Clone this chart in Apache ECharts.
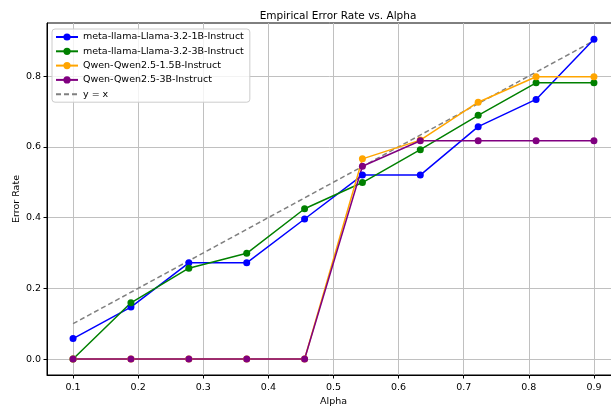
<!DOCTYPE html>
<html><head><meta charset="utf-8">
<script src="https://cdn.jsdelivr.net/npm/echarts@6/dist/echarts.min.js"></script>
<style>html,body{margin:0;padding:0;background:#fff}#c{width:611px;height:408px}</style>
</head><body><div id="c"></div>
<script>
const alphas = [0.1, 0.1889, 0.2778, 0.3667, 0.4556, 0.5444, 0.6333, 0.7222, 0.8111, 0.9];
const llama1B = [0.058, 0.147, 0.272, 0.272, 0.396, 0.520, 0.520, 0.657, 0.734, 0.904];
const llama3B = [0.0, 0.159, 0.257, 0.299, 0.425, 0.499, 0.592, 0.689, 0.781, 0.781];
const qwen15B = [0.0, 0.0, 0.0, 0.0, 0.0, 0.566, 0.619, 0.726, 0.798, 0.798];
const qwen3B  = [0.0, 0.0, 0.0, 0.0, 0.0, 0.545, 0.617, 0.617, 0.617, 0.617];
const diagX = [0.1, 0.9];
const diagY = [0.1, 0.9];
const xTicks = [0.1, 0.2, 0.3, 0.4, 0.5, 0.6, 0.7, 0.8, 0.9];
const yTicks = [0.0, 0.2, 0.4, 0.6, 0.8];
const names = ['meta-llama-Llama-3.2-1B-Instruct','meta-llama-Llama-3.2-3B-Instruct','Qwen-Qwen2.5-1.5B-Instruct','Qwen-Qwen2.5-3B-Instruct','y = x'];
const colors = ['#0000ff','#008000','#ffa500','#800080','#808080'];
const font = 'DejaVu Sans';

const pair = (xs, ys) => xs.map((x, i) => [x, ys[i]]);
const lineSeries = (name, ys, color) => ({
  name, type: 'line', data: pair(alphas, ys),
  symbol: 'circle', symbolSize: 7, showSymbol: true,
  itemStyle: {color}, lineStyle: {color, width: 1.5},
  emphasis: {disabled: true}, animation: false, z: 3
});

const chart = echarts.init(document.getElementById('c'), null, {renderer: 'canvas'});
chart.setOption({
  animation: false,
  backgroundColor: '#fff',
  title: {text: 'Empirical Error Rate vs. Alpha', left: 333, top: 6, textAlign: 'center',
    textStyle: {fontFamily: font, fontSize: 10.5, fontWeight: 'normal', color: '#000'}},
  grid: {left: 47, top: 23, width: 573, height: 352, outerBoundsMode: 'none', containLabel: false,
    show: true, borderColor: '#000', borderWidth: 1, backgroundColor: 'transparent'},
  legend: {
    orient: 'vertical', left: 52, top: 29, padding: [3, 6, 3, 3],
    itemWidth: 22, itemHeight: 9, itemGap: 4.3,
    backgroundColor: 'rgba(255,255,255,0.8)', borderColor: '#cccccc', borderWidth: 1, borderRadius: 3,
    textStyle: {fontFamily: font, fontSize: 9.5, color: '#000'},
    data: names.slice(0, 4).concat([{name: names[4], itemStyle: {opacity: 0}}])
  },
  xAxis: {
    type: 'value', min: 0.06, max: 0.94,
    name: 'Alpha', nameLocation: 'middle', nameGap: 22, nameMoveOverlap: false,
    nameTextStyle: {fontFamily: font, fontSize: 9.5, color: '#000'},
    axisLine: {show: true, onZero: false, lineStyle: {color: '#000', width: 1}},
    axisTick: {show: true, inside: false, length: 3.5, lineStyle: {color: '#000'}, customValues: xTicks},
    axisLabel: {customValues: xTicks, fontFamily: font, fontSize: 9.5, color: '#000', margin: 8,
      formatter: v => v.toFixed(1)},
    splitLine: {show: true, lineStyle: {color: '#c0c0c0', width: 1}}
  },
  yAxis: {
    type: 'value', min: -0.045, max: 0.95,
    name: 'Error Rate', nameLocation: 'middle', nameGap: 25, nameRotate: 90, nameMoveOverlap: false,
    nameTextStyle: {fontFamily: font, fontSize: 9.5, color: '#000'},
    axisLine: {show: true, onZero: false, lineStyle: {color: '#000', width: 1}},
    axisTick: {show: true, inside: false, length: 3.5, lineStyle: {color: '#000'}, customValues: yTicks},
    axisLabel: {customValues: yTicks, fontFamily: font, fontSize: 9.5, color: '#000', margin: 6,
      formatter: v => v.toFixed(1)},
    splitLine: {show: true, lineStyle: {color: '#c0c0c0', width: 1}}
  },
  series: [
    lineSeries(names[0], llama1B, colors[0]),
    lineSeries(names[1], llama3B, colors[1]),
    lineSeries(names[2], qwen15B, colors[2]),
    lineSeries(names[3], qwen3B, colors[3]),
    {name: names[4], type: 'line', data: pair(diagX, diagY), symbol: 'none', showSymbol: false,
     itemStyle: {color: colors[4]}, lineStyle: {color: colors[4], width: 1.5, type: [5, 3]},
     emphasis: {disabled: true}, z: 2}
  ]
});
</script></body></html>
